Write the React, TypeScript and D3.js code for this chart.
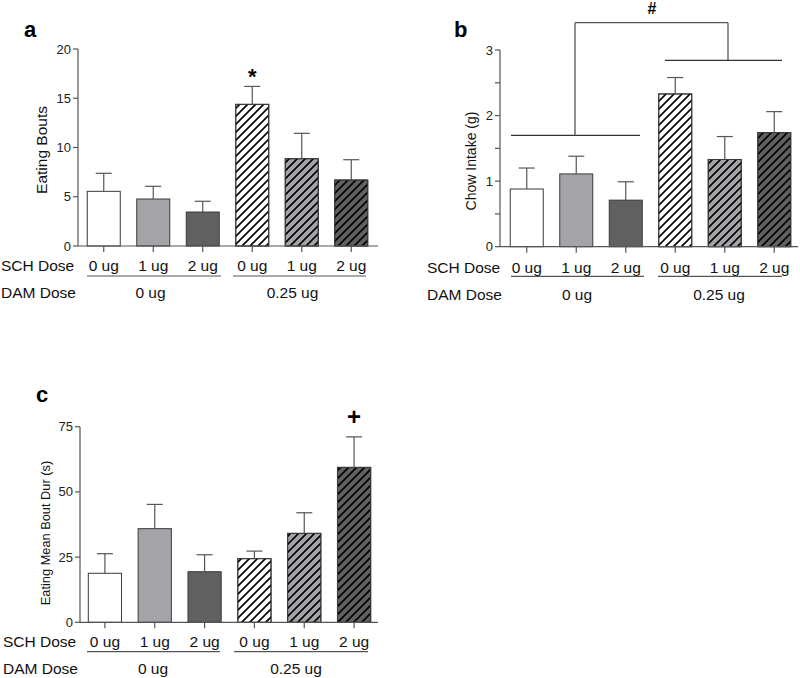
import React from "react";
import * as d3 from "d3";

const categories = ["0 ug", "1 ug", "2 ug", "0 ug", "1 ug", "2 ug"];
const groupLabels = ["0 ug", "0.25 ug"];
const rowLabels = ["SCH Dose", "DAM Dose"];

const boutsMean = [5.55, 4.77, 3.45, 14.38, 8.86, 6.7];
const boutsErr = [1.83, 1.29, 1.09, 1.82, 2.58, 2.06];
const boutsTicks = [0, 5, 10, 15, 20];

const chowMean = [0.88, 1.11, 0.71, 2.33, 1.33, 1.74];
const chowErr = [0.32, 0.27, 0.28, 0.25, 0.35, 0.32];
const chowTicks = [0, 1, 2, 3];
const chowMinor = [0.5, 1.5, 2.5];

const durMean = [18.8, 35.9, 19.4, 24.4, 34.1, 59.4];
const durErr = [7.5, 9.3, 6.5, 2.9, 7.9, 11.7];
const durTicks = [0, 25, 50, 75];

const baseFills = ["#ffffff", "#a4a4a8", "#606060", "#ffffff", "#a4a4a8", "#606060"];
const hatched = [false, false, false, true, true, true];

const FONT = "'Liberation Sans', Arial, sans-serif";
const AXIS = "#555";

type PanelProps = {
  letter: string;
  letterX: number;
  letterY: number;
  axisX: number;
  axisEnd: number;
  xRange: [number, number];
  yRange: [number, number];
  yMax: number;
  means: number[];
  errs: number[];
  ticks: number[];
  minor?: number[];
  yTitle: string;
  yTitleX: number;
  yTitleY: number;
  yTitleSize: number;
  catBaseline: number;
  groupLineY: number;
  groupLines: [number, number][];
  groupLabelX: number[];
  groupBaseline: number;
  rowX: number;
  mark?: { text: string; idx: number; y: number; size: number };
};

function Panel(p: PanelProps) {
  const idx = d3.range(categories.length).map(String);
  const x = d3.scaleBand<string>().domain(idx).range(p.xRange).paddingInner(1 / 3).paddingOuter(1 / 6);
  const y = d3.scaleLinear().domain([0, p.yMax]).range(p.yRange);
  const y0 = y(0);
  const bw = x.bandwidth();
  return (
    <g>
      <text x={p.letterX} y={p.letterY} fontSize={22} fontWeight="bold" fontFamily={FONT}>
        {p.letter}
      </text>
      {p.means.map((m, i) => {
        const bx = x(String(i))!;
        const top = y(m);
        return (
          <g key={i}>
            <rect x={bx} y={top} width={bw} height={y0 - top} fill={baseFills[i]} stroke="#3a3a3a" strokeWidth={1} />
            {hatched[i] && (
              <rect x={bx} y={top} width={bw} height={y0 - top} fill="url(#hatch)" stroke="#3a3a3a" strokeWidth={1} />
            )}
            <line x1={bx + bw / 2} x2={bx + bw / 2} y1={top} y2={y(m + p.errs[i])} stroke={AXIS} strokeWidth={1.2} />
            <line x1={bx + bw / 2 - 8} x2={bx + bw / 2 + 8} y1={y(m + p.errs[i])} y2={y(m + p.errs[i])} stroke={AXIS} strokeWidth={1.2} />
          </g>
        );
      })}
      <line x1={p.axisX} x2={p.axisX} y1={y(p.yMax)} y2={y0} stroke={AXIS} strokeWidth={1.2} />
      {p.ticks.map((t) => (
        <g key={t}>
          <line x1={p.axisX - 5} x2={p.axisX} y1={y(t)} y2={y(t)} stroke={AXIS} strokeWidth={1.2} />
          <text x={p.axisX - 7} y={y(t)} dy="0.35em" textAnchor="end" fontSize={13} fontFamily={FONT} fill="#222">
            {t}
          </text>
        </g>
      ))}
      {(p.minor || []).map((t) => (
        <line key={t} x1={p.axisX - 5} x2={p.axisX} y1={y(t)} y2={y(t)} stroke={AXIS} strokeWidth={1.2} />
      ))}
      <text
        transform={`translate(${p.yTitleX},${p.yTitleY}) rotate(-90)`}
        textAnchor="middle"
        fontSize={p.yTitleSize}
        fontFamily={FONT}
        fill="#111"
      >
        {p.yTitle}
      </text>
      <line x1={p.axisX} x2={p.axisEnd} y1={y0} y2={y0} stroke={AXIS} strokeWidth={1.2} />
      {categories.map((c, i) => {
        const cx = x(String(i))! + bw / 2;
        return (
          <g key={i}>
            <line x1={cx} x2={cx} y1={y0} y2={y0 + 6} stroke={AXIS} strokeWidth={1.2} />
            <text x={cx} y={p.catBaseline} textAnchor="middle" fontSize={15.5} fontFamily={FONT} fill="#111">
              {c}
            </text>
          </g>
        );
      })}
      <text x={p.rowX} y={p.catBaseline} fontSize={15.5} fontFamily={FONT} fill="#111">
        {rowLabels[0]}
      </text>
      <text x={p.rowX} y={p.groupBaseline} fontSize={15.5} fontFamily={FONT} fill="#111">
        {rowLabels[1]}
      </text>
      {p.groupLines.map((g, i) => (
        <line key={i} x1={g[0]} x2={g[1]} y1={p.groupLineY} y2={p.groupLineY} stroke={AXIS} strokeWidth={1.2} />
      ))}
      {groupLabels.map((g, i) => (
        <text key={i} x={p.groupLabelX[i]} y={p.groupBaseline} textAnchor="middle" fontSize={15.5} fontFamily={FONT} fill="#111">
          {g}
        </text>
      ))}
      {p.mark && (
        <text
          x={x(String(p.mark.idx))! + bw / 2}
          y={p.mark.y}
          textAnchor="middle"
          fontSize={p.mark.size}
          fontWeight="bold"
          fontFamily={FONT}
        >
          {p.mark.text}
        </text>
      )}
    </g>
  );
}

export default function App() {
  return (
    <svg width={800} height={678} style={{ position: "absolute", left: 0, top: 0, background: "#fff" }}>
      <defs>
        <pattern id="hatch" patternUnits="userSpaceOnUse" width={8} height={8}>
          <path d="M-2,2 l4,-4 M0,8 l8,-8 M6,10 l4,-4" stroke="#000" strokeWidth={1.6} />
        </pattern>
      </defs>
      <rect x={0} y={0} width={800} height={678} fill="#fff" />
      <Panel
        letter="a"
        letterX={24}
        letterY={37}
        axisX={78}
        axisEnd={378}
        xRange={[79, 376]}
        yRange={[246, 49]}
        yMax={20}
        means={boutsMean}
        errs={boutsErr}
        ticks={boutsTicks}
        yTitle="Eating Bouts"
        yTitleX={47}
        yTitleY={150}
        yTitleSize={15.5}
        catBaseline={271}
        groupLineY={276}
        groupLines={[[87, 221], [233, 366]]}
        groupLabelX={[150.5, 292.5]}
        groupBaseline={298}
        rowX={1}
        mark={{ text: "*", idx: 3, y: 84, size: 22 }}
      />
      <Panel
        letter="b"
        letterX={454}
        letterY={37}
        axisX={500}
        axisEnd={798}
        xRange={[502, 799]}
        yRange={[246.7, 50]}
        yMax={3}
        means={chowMean}
        errs={chowErr}
        ticks={chowTicks}
        minor={chowMinor}
        yTitle="Chow Intake (g)"
        yTitleX={476}
        yTitleY={161}
        yTitleSize={14}
        catBaseline={272.5}
        groupLineY={276.3}
        groupLines={[[511, 644], [658, 782]]}
        groupLabelX={[577, 719]}
        groupBaseline={300}
        rowX={427}
      />
      <g stroke={AXIS} strokeWidth={1.3} fill="none">
        <line x1={511} x2={640} y1={135.3} y2={135.3} stroke="#333" />
        <line x1={575} x2={575} y1={135.3} y2={22.7} />
        <line x1={575} x2={728} y1={22.7} y2={22.7} />
        <line x1={728} x2={728} y1={22.7} y2={60.3} />
        <line x1={665} x2={782} y1={60.3} y2={60.3} stroke="#333" />
      </g>
      <text x={652} y={14} textAnchor="middle" fontSize={16} fontWeight="bold" fontFamily={FONT}>
        #
      </text>
      <Panel
        letter="c"
        letterX={36}
        letterY={402}
        axisX={80}
        axisEnd={378}
        xRange={[80, 379]}
        yRange={[622.3, 426.7]}
        yMax={75}
        means={durMean}
        errs={durErr}
        ticks={durTicks}
        yTitle="Eating Mean Bout Dur (s)"
        yTitleX={50}
        yTitleY={533}
        yTitleSize={12.8}
        catBaseline={646.7}
        groupLineY={651.7}
        groupLines={[[87, 220], [234, 368]]}
        groupLabelX={[153, 296]}
        groupBaseline={674}
        rowX={3}
        mark={{ text: "+", idx: 5, y: 424.5, size: 24 }}
      />
    </svg>
  );
}
